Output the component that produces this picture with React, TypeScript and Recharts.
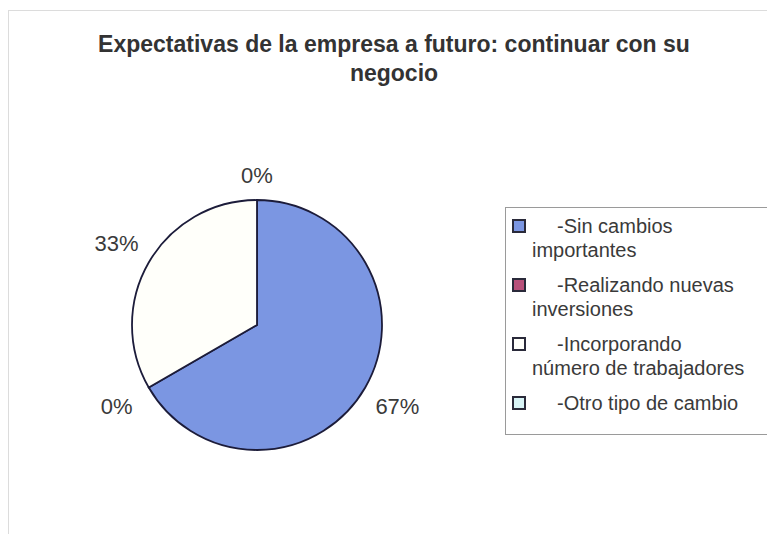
import React from "react";
import { PieChart, Pie, Cell, Legend } from "recharts";

const categories = [
  "-Sin cambios importantes",
  "-Realizando nuevas inversiones",
  "-Incorporando número de trabajadores",
  "-Otro tipo de cambio",
];
const values = [2, 0, 1, 0];
const colors = ["#7b96e2", "#b8507a", "#fffffa", "#d8f4f6"];
const legendLines = [
  ["-Sin cambios", "importantes"],
  ["-Realizando nuevas", "inversiones"],
  ["-Incorporando", "número de trabajadores"],
  ["-Otro tipo de cambio"],
];

const chartData = categories.map((name, i) => ({ name, value: values[i] }));
const total = values.reduce((a, b) => a + b, 0);

const RADIAN = Math.PI / 180;
const FONT = "'Liberation Sans', Arial, sans-serif";

// percent labels sit a bit further out on the sides, like Excel places them
const renderLabel = (props: any) => {
  const { cx, cy, midAngle, outerRadius, value } = props;
  const cos = Math.cos(-midAngle * RADIAN);
  const sin = Math.sin(-midAngle * RADIAN);
  const r = outerRadius + 25 + Math.abs(cos) * 14;
  const x = cx + r * cos;
  const y = cy + r * sin;
  return (
    <text
      x={x}
      y={y}
      textAnchor="middle"
      dominantBaseline="central"
      fill="#3a3a3a"
      style={{ fontSize: "22px", fontFamily: FONT }}
    >
      {`${Math.round((value / total) * 100)}%`}
    </text>
  );
};

const LegendBox = () => (
  <div
    style={{
      width: 263,
      height: 228,
      boxSizing: "border-box",
      border: "1px solid #9a9a9a",
      background: "#fff",
      paddingTop: 6,
      fontFamily: FONT,
      fontSize: "20px",
      color: "#3a3a3a",
      lineHeight: "24px",
    }}
  >
    {legendLines.map((lines, i) => (
      <div key={i} style={{ position: "relative", marginBottom: 11 }}>
        <span
          style={{
            position: "absolute",
            left: 6,
            top: 5,
            width: 10,
            height: 10,
            background: colors[i],
            border: "2px solid #2a2a3a",
          }}
        />
        <div style={{ paddingLeft: 51, whiteSpace: "nowrap" }}>{lines[0]}</div>
        {lines[1] && <div style={{ paddingLeft: 26, whiteSpace: "nowrap" }}>{lines[1]}</div>}
      </div>
    ))}
  </div>
);

export default function App() {
  return (
    <div
      style={{
        position: "relative",
        margin: -8,
        width: 775,
        height: 542,
        background: "#fff",
      }}
    >
      <div
        style={{
          position: "absolute",
          left: 8,
          top: 10,
          width: 767,
          height: 529,
          border: "1px solid #dcdcdc",
          boxSizing: "border-box",
        }}
      />
      <div
        style={{
          position: "absolute",
          left: 0,
          top: 30,
          width: 788,
          textAlign: "center",
          fontFamily: FONT,
          fontWeight: "bold",
          fontSize: "23px",
          lineHeight: "29px",
          color: "#333",
        }}
      >
        Expectativas de la empresa a futuro: continuar con su
        <br />
        negocio
      </div>
      <PieChart
        width={775}
        height={542}
        margin={{ top: 0, right: 0, bottom: 0, left: 0 }}
        style={{ position: "absolute", left: 0, top: 0 }}
      >
        <Pie
          data={chartData}
          dataKey="value"
          nameKey="name"
          cx={257}
          cy={325}
          outerRadius={125}
          startAngle={90}
          endAngle={-270}
          stroke="#1c1c3a"
          strokeWidth={1.8}
          label={renderLabel}
          labelLine={false}
          isAnimationActive={false}
        >
          {chartData.map((d, i) => (
            <Cell key={d.name} fill={colors[i]} />
          ))}
        </Pie>
        <Legend
          layout="vertical"
          align="right"
          verticalAlign="top"
          wrapperStyle={{ left: 505, top: 207, width: 263 }}
          content={() => <LegendBox />}
        />
      </PieChart>
    </div>
  );
}
